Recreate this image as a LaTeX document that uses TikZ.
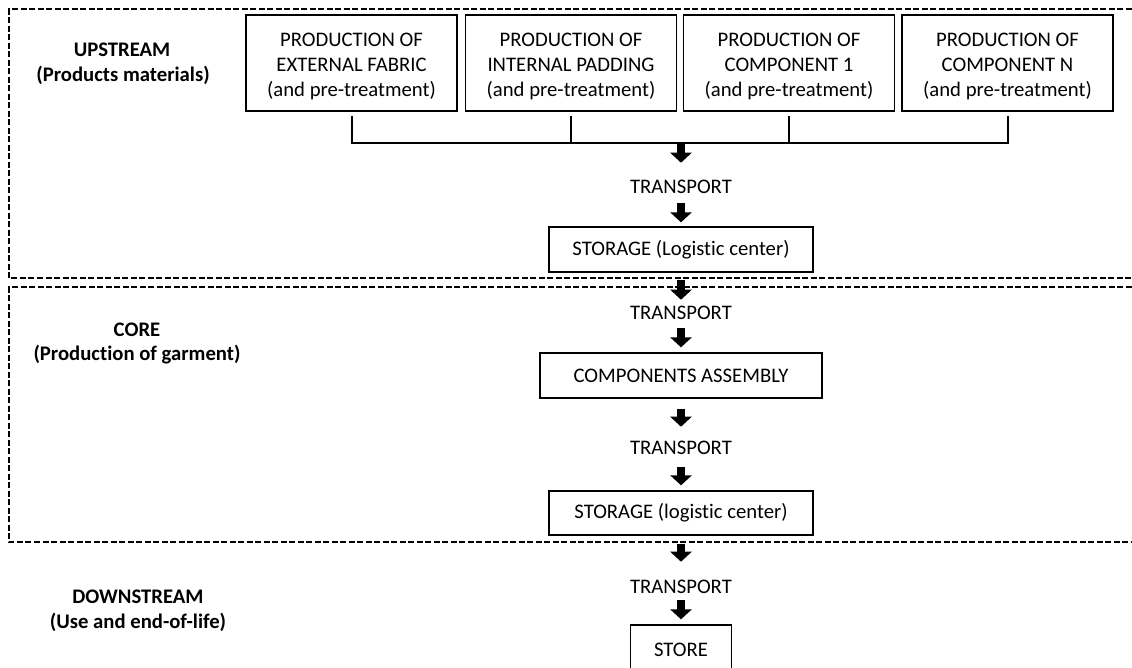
\documentclass[tikz,border=0pt]{standalone}
\usepackage{fontspec}
\setmainfont{Carlito}[Ligatures=NoCommon]
\usetikzlibrary{arrows.meta}

\begin{document}
\begin{tikzpicture}[x=1pt,y=-1pt,
  txt/.style={font=\fontsize{20.7}{25}\selectfont, inner sep=0pt, align=center},
  lbl/.style={font=\fontsize{20.7}{25}\selectfont\bfseries, inner sep=0pt},
  procbox/.style={draw, line width=1.3pt, font=\fontsize{20.7}{25}\selectfont,
    align=center, inner sep=0pt, minimum height=45pt},
  srcbox/.style={procbox, minimum width=211pt, minimum height=96pt},
  zone/.style={line width=1.3pt, dash pattern=on 6pt off 2.5pt},
  busline/.style={line width=2pt},
  flow/.style={line width=8pt, -{Triangle[width=21pt,length=10pt]}},
]
\useasboundingbox (0,0) rectangle (1132,667);
% strut that lowers the text block of the source boxes a little
\def\lowstrut{\rule{0pt}{19.5pt}}

% stage frames
\draw[zone] (1140,9) -- (9,9) -- (9,278) -- (1140,278);
\draw[zone] (1140,287) -- (9,287) -- (9,542) -- (1140,542);

% stage labels
\node[lbl] (up1) at (122,50) {UPSTREAM};
\node[lbl] (up2) at (123,75) {(Products materials)};
\node[lbl] (co1) at (137,330) {CORE};
\node[lbl] (co2) at (137,355) {(Production of garment)};
\node[lbl] (dn1) at (138,597) {DOWNSTREAM};
\node[lbl] (dn2) at (138,622) {(Use and end-of-life)};

% upstream production steps
\node[srcbox] (b1) at (351.5,63) {\lowstrut PRODUCTION OF\\EXTERNAL FABRIC\\(and pre-treatment)};
\node[srcbox] (b2) at (571,63) {\lowstrut PRODUCTION OF\\INTERNAL PADDING\\(and pre-treatment)};
\node[srcbox] (b3) at (789,63) {\lowstrut PRODUCTION OF\\COMPONENT 1\\(and pre-treatment)};
\node[srcbox] (b4) at (1007.5,63) {\lowstrut PRODUCTION OF\\COMPONENT N\\(and pre-treatment)};

% collecting bus
\coordinate (bus) at (681,143);
\draw[busline, shorten <=4pt, shorten >=4pt]
  (b1.south) -- (b1.south |- bus) -- (b4.south |- bus) -- (b4.south);
\draw[busline, shorten <=4pt] (b2.south) -- (b2.south |- bus);
\draw[busline, shorten <=4pt] (b3.south) -- (b3.south |- bus);

% main flow
\node[txt] (t1) at (681,187) {TRANSPORT};
\node[procbox, minimum width=264pt] (sto1) at (681,249.5) {STORAGE (Logistic center)};
\node[txt] (t2) at (681,313) {TRANSPORT};
\node[procbox, minimum width=282pt] (asm) at (681,375.5) {COMPONENTS ASSEMBLY};
\node[txt] (t3) at (681,448) {TRANSPORT};
\node[procbox, minimum width=264pt, minimum height=44pt] (sto2) at (681,513) {STORAGE (logistic center)};
\node[txt] (t4) at (681,587) {TRANSPORT};
\node[procbox, minimum width=101pt, minimum height=50pt] (store) at (681,650) {STORE};

\draw[flow, shorten >=17.3pt] (bus) -- (t1.north);
\draw[flow, shorten <=9.3pt, shorten >=4pt] (t1.south) -- (sto1.north);
\draw[flow, shorten <=7pt, shorten >=6.3pt] (sto1.south) -- (t2.north);
\draw[flow, shorten <=8.3pt, shorten >=5pt] (t2.south) -- (asm.north);
\draw[flow, shorten <=10pt, shorten >=14.3pt] (asm.south) -- (t3.north);
\draw[flow, shorten <=12.3pt, shorten >=5pt] (t3.south) -- (sto2.north);
\draw[flow, shorten <=8pt, shorten >=18.3pt] (sto2.south) -- (t4.north);
\draw[flow, shorten <=6.3pt, shorten >=5pt] (t4.south) -- (store.north);
\end{tikzpicture}
\end{document}
